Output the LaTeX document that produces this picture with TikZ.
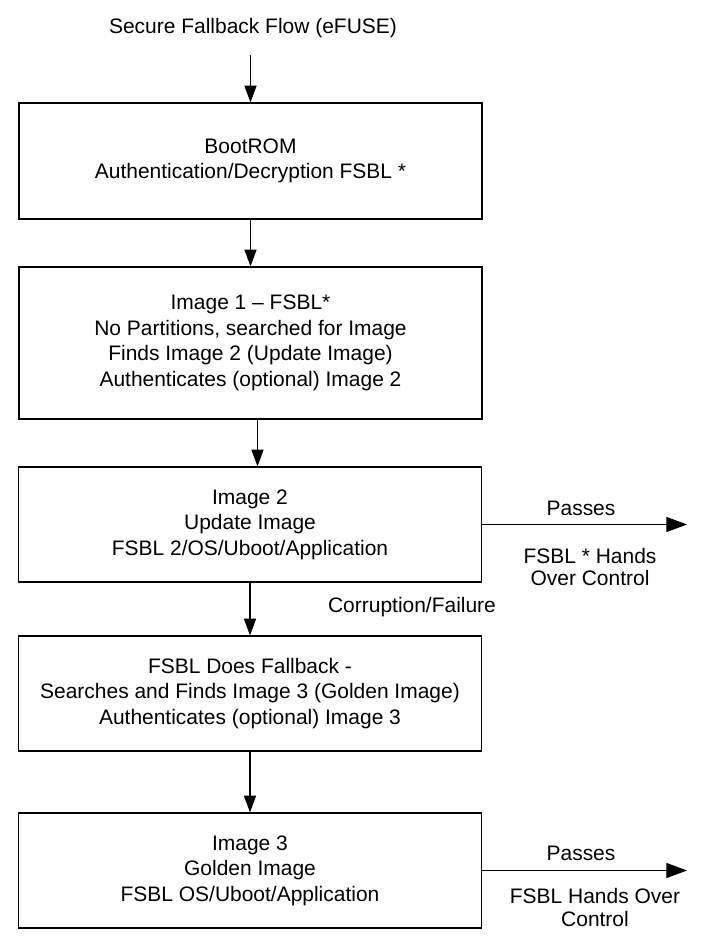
\documentclass[tikz,border=0pt]{standalone}
\usepackage{fontspec}
\setmainfont{Liberation Sans}
\usepackage{tikz}
\usetikzlibrary{arrows.meta,positioning}

\begin{document}
\begin{tikzpicture}[
  >={Triangle[length=0.5cm,width=0.36cm]},
  font=\fontsize{17.9}{21.8}\selectfont,
  stagebox/.style={draw, line width=1pt, minimum width=13.89cm, minimum height=3.45cm, align=center, inner sep=0pt},
  flow/.style={->, line width=1pt},
  exitflow/.style={-{Triangle[length=0.62cm,width=0.45cm]}, line width=1pt},
  sidenote/.style={align=center, font=\fontsize{17.9}{18.8}\selectfont}
]

\useasboundingbox (0, 0) rectangle (21.15, 28.17);

% Title and entry
\node (title) at (7.59, 27.33) {Secure Fallback Flow (eFUSE)};
\coordinate (entry) at (7.515, 26.52);

% Boxes
\node[stagebox, minimum height=3.48cm] (bootrom) at (7.515, 23.34)
  {BootROM\\Authentication/Decryption FSBL *};
\node[stagebox, minimum height=4.56cm] (imgone) at (7.515, 17.88)
  {Image 1 -- FSBL*\\No Partitions, searched for Image\\Finds Image 2 (Update Image)\\Authenticates (optional) Image 2};
\node[stagebox] (imgtwo) at (7.5, 12.435)
  {Image 2\\Update Image\\FSBL 2/OS/Uboot/Application};
\node[stagebox] (fallback) at (7.5, 7.365)
  {FSBL Does Fallback -\\Searches and Finds Image 3 (Golden Image)\\Authenticates (optional) Image 3};
\node[stagebox] (imgthree) at (7.5, 2.055)
  {Image 3\\Golden Image\\FSBL OS/Uboot/Application};

% Down the chain
\draw[flow] (entry) -- (bootrom.north);
\draw[flow] (bootrom) -- (imgone);
\draw[flow] ([xshift=0.21cm]imgone.south) -- ([xshift=0.21cm]imgone.south |- imgtwo.north);
\draw[flow] (imgtwo) -- (fallback);
\draw[flow] (fallback) -- (imgthree);
\node (corrupt) at (12.36, 9.96) {Corruption/Failure};

% Exits to the right
\coordinate (exittwo) at (20.61, 12.435);
\coordinate (exitthree) at (20.61, 2.055);
\draw[exitflow] (imgtwo.east) -- (exittwo);
\draw[exitflow] (imgthree.east) -- (exitthree);

\node (passtwo) at (17.43, 12.93) {Passes};
\node[sidenote] (handtwo) at (17.7, 11.16) {FSBL * Hands\\Over Control};
\node (passthree) at (17.43, 2.58) {Passes};
\node[sidenote] (handthree) at (17.85, 0.945) {FSBL Hands Over\\Control};

\end{tikzpicture}
\end{document}
